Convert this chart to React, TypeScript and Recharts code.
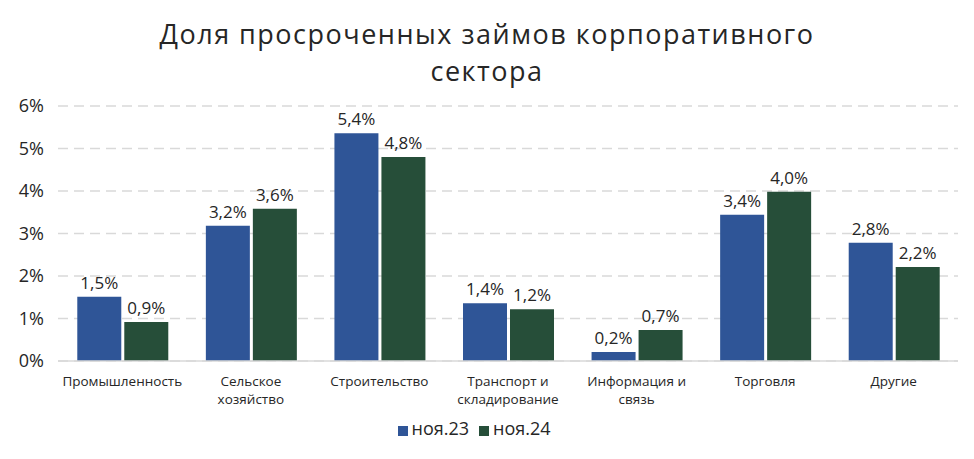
import React from "react";
import { BarChart, Bar, XAxis, YAxis, CartesianGrid, Legend, LabelList, Text } from "recharts";

const categories = [
  "Промышленность",
  "Сельское хозяйство",
  "Строительство",
  "Транспорт и складирование",
  "Информация и связь",
  "Торговля",
  "Другие",
];
const nov23 = [1.51, 3.18, 5.36, 1.36, 0.21, 3.44, 2.78];
const nov24 = [0.92, 3.58, 4.8, 1.22, 0.73, 3.98, 2.21];
const yTicks = [0, 1, 2, 3, 4, 5, 6];
const seriesNames = ["ноя.23", "ноя.24"];
const title = ["Доля просроченных займов корпоративного", "сектора"];

const data = categories.map((c, i) => ({ name: c, a: nov23[i], b: nov24[i] }));

const FONT = "'Open Sans', 'Noto Sans', sans-serif";
const BLUE = "#2F5597";
const GREEN = "#264E39";

const fmt = (v: any) => `${Number(v).toFixed(1).replace(".", ",")}%`;

const XTick = (props: any) => {
  const { x, y, payload } = props;
  return (
    <Text
      x={x}
      y={y + 7}
      width={118}
      textAnchor="middle"
      verticalAnchor="start"
      fontSize={13.5}
      fill="#262626"
      fontFamily={FONT}
      lineHeight={18}
    >
      {payload.value}
    </Text>
  );
};

export default function App() {
  return (
    <div style={{ position: "absolute", left: 0, top: 0, width: 974, height: 459, background: "#fff" }}>
      <div
        style={{
          position: "absolute",
          left: 0,
          top: 15,
          width: 974,
          textAlign: "center",
          fontFamily: FONT,
          fontSize: 27,
          letterSpacing: "1.5px",
          lineHeight: "37px",
          color: "#262626",
        }}
      >
        {title.map((t) => (
          <div key={t}>{t}</div>
        ))}
      </div>
      <BarChart
        width={974}
        height={459}
        data={data}
        margin={{ top: 106, right: 16, bottom: 13, left: 0 }}
        barCategoryGap="15%"
        barGap={3}
      >
        <CartesianGrid vertical={false} stroke="#D9D9D9" strokeDasharray="10 6" strokeWidth={1.5} />
        <XAxis
          dataKey="name"
          interval={0}
          height={55}
          tickLine={false}
          axisLine={{ stroke: "#D9D9D9", strokeWidth: 1.5 }}
          tick={<XTick />}
        />
        <YAxis
          width={58}
          domain={[0, 6]}
          ticks={yTicks}
          tickFormatter={(v: number) => `${v}%`}
          axisLine={false}
          tickLine={false}
          tick={{ fontSize: 18, fill: "#262626", fontFamily: FONT }}
          tickMargin={8}
        />
        <Legend
          verticalAlign="bottom"
          height={30}
          iconType="square"
          iconSize={10}
          formatter={(v: string) => (
            <span style={{ color: "#262626", fontSize: 18, fontFamily: FONT }}>{v}</span>
          )}
        />
        <Bar dataKey="a" name={seriesNames[0]} fill={BLUE} isAnimationActive={false}>
          <LabelList
            dataKey="a"
            position="top"
            offset={8}
            formatter={fmt}
            style={{ fontSize: 17, fill: "#262626", fontFamily: FONT }}
          />
        </Bar>
        <Bar dataKey="b" name={seriesNames[1]} fill={GREEN} isAnimationActive={false}>
          <LabelList
            dataKey="b"
            position="top"
            offset={8}
            formatter={fmt}
            style={{ fontSize: 17, fill: "#262626", fontFamily: FONT }}
          />
        </Bar>
      </BarChart>
    </div>
  );
}
